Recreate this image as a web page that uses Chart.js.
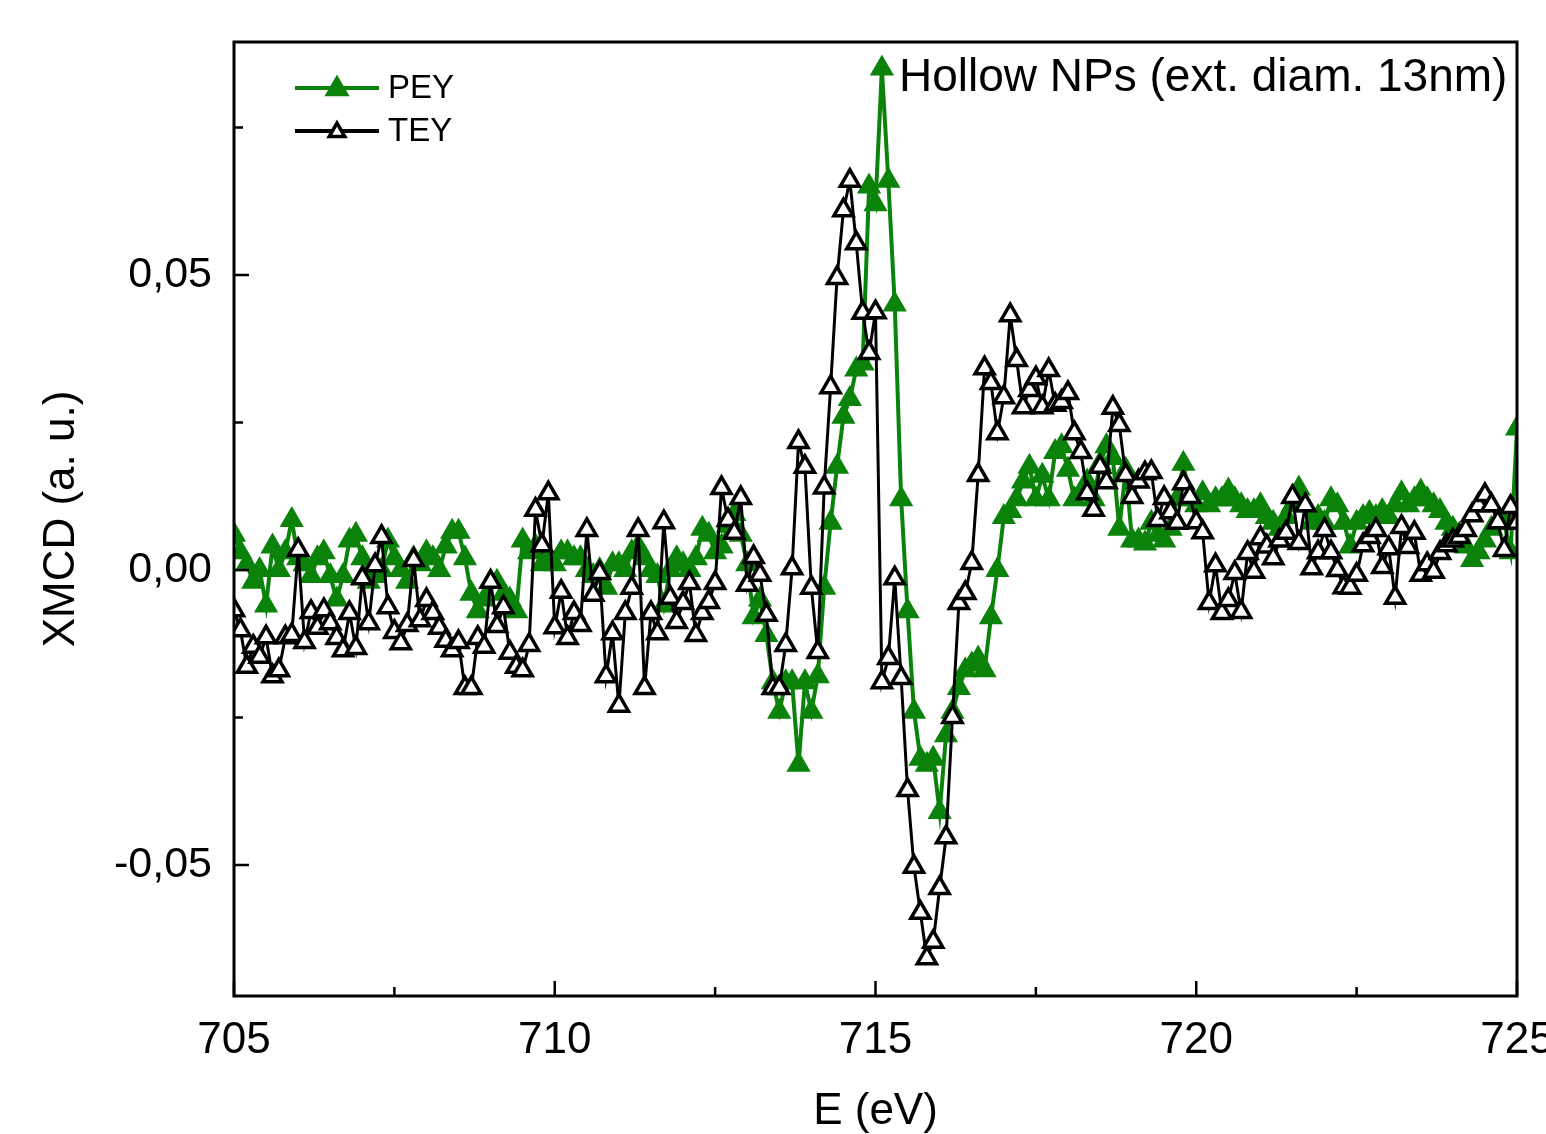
<!DOCTYPE html>
<html>
<head>
<meta charset="utf-8">
<script src="https://cdn.jsdelivr.net/npm/chart.js@4/dist/chart.umd.min.js"></script>
<style>
html,body{margin:0;padding:0;background:#fff;overflow:hidden;}
</style>
</head>
<body>
<canvas id="xmcd" width="1546" height="1134"></canvas>
<script>
// photon energy grid (eV)
const energy=[
705.0,705.1,705.2,705.3,705.4,705.5,705.6,705.7,705.8,705.9,
706.0,706.1,706.2,706.3,706.4,706.5,706.6,706.7,706.8,706.9,
707.0,707.1,707.2,707.3,707.4,707.5,707.6,707.7,707.8,707.9,
708.0,708.1,708.2,708.3,708.4,708.5,708.6,708.7,708.8,708.9,
709.0,709.1,709.2,709.3,709.4,709.5,709.6,709.7,709.8,709.9,
710.0,710.1,710.2,710.3,710.4,710.5,710.6,710.7,710.8,710.9,
711.0,711.1,711.2,711.3,711.4,711.5,711.6,711.7,711.8,711.9,
712.0,712.1,712.2,712.3,712.4,712.5,712.6,712.7,712.8,712.9,
713.0,713.1,713.2,713.3,713.4,713.5,713.6,713.7,713.8,713.9,
714.0,714.1,714.2,714.3,714.4,714.5,714.6,714.7,714.8,714.9,
715.0,715.1,715.2,715.3,715.4,715.5,715.6,715.7,715.8,715.9,
716.0,716.1,716.2,716.3,716.4,716.5,716.6,716.7,716.8,716.9,
717.0,717.1,717.2,717.3,717.4,717.5,717.6,717.7,717.8,717.9,
718.0,718.1,718.2,718.3,718.4,718.5,718.6,718.7,718.8,718.9,
719.0,719.1,719.2,719.3,719.4,719.5,719.6,719.7,719.8,719.9,
720.0,720.1,720.2,720.3,720.4,720.5,720.6,720.7,720.8,720.9,
721.0,721.1,721.2,721.3,721.4,721.5,721.6,721.7,721.8,721.9,
722.0,722.1,722.2,722.3,722.4,722.5,722.6,722.7,722.8,722.9,
723.0,723.1,723.2,723.3,723.4,723.5,723.6,723.7,723.8,723.9,
724.0,724.1,724.2,724.3,724.4,724.5,724.6,724.7,724.8,724.9,
725.0];

// PEY (partial electron yield) XMCD
const pey=[
0.006,0.003,0.001,-0.002,0.000,-0.006,0.004,0.000,0.003,0.0085,
0.002,0.001,-0.001,0.002,0.003,-0.001,-0.005,-0.001,0.005,0.006,
0.002,-0.002,-0.001,0.000,0.005,0.002,0.000,-0.002,0.002,0.001,
0.003,0.002,0.000,0.004,0.0065,0.0065,0.002,-0.004,-0.007,-0.005,
-0.002,-0.002,-0.004,-0.005,-0.007,0.005,0.003,0.004,0.001,0.002,
0.001,0.003,0.003,0.002,0.002,0.000,-0.001,0.000,-0.003,0.001,
0.001,0.000,0.003,0.004,0.002,0.000,-0.001,-0.006,0.000,0.002,
0.001,0.000,0.002,0.007,0.006,0.003,0.004,0.0075,0.0095,0.006,
0.001,-0.008,-0.005,-0.011,-0.019,-0.024,-0.019,-0.019,-0.033,-0.019,
-0.024,-0.018,-0.003,0.008,0.0175,0.026,0.029,0.034,0.035,0.065,
0.062,0.085,0.066,0.045,0.012,-0.007,-0.024,-0.032,-0.033,-0.032,
-0.041,-0.028,-0.024,-0.020,-0.017,-0.016,-0.015,-0.017,-0.008,0.000,
0.009,0.010,0.012,0.015,0.0175,0.012,0.016,0.012,0.020,0.021,
0.017,0.012,0.013,0.015,0.012,0.018,0.021,0.019,0.007,0.017,
0.005,0.005,0.0045,0.008,0.006,0.005,0.007,0.012,0.018,0.012,
0.011,0.013,0.011,0.012,0.012,0.0135,0.012,0.011,0.010,0.010,
0.011,0.009,0.008,0.007,0.009,0.011,0.0138,0.011,0.008,0.009,
0.008,0.012,0.011,0.008,0.004,0.008,0.009,0.0097,0.009,0.010,
0.009,0.011,0.013,0.011,0.012,0.0133,0.012,0.011,0.010,0.008,
0.007,0.006,0.004,0.0017,0.003,0.005,0.007,0.008,0.008,0.003,
0.024];

// TEY (total electron yield) XMCD
const tey=[
-0.0068,-0.0102,-0.0164,-0.013,-0.0147,-0.0114,-0.018,-0.017,-0.0114,-0.011,
0.0034,-0.0122,-0.0071,-0.0098,-0.0068,-0.009,-0.0115,-0.0136,-0.0073,-0.0132,
-0.0014,-0.009,0.0008,0.0056,-0.0063,-0.0105,-0.0124,-0.0093,0.0017,-0.0085,
-0.0051,-0.0073,-0.0098,-0.012,-0.0136,-0.0122,-0.020,-0.020,-0.0115,-0.013,
-0.002,-0.0095,-0.0063,-0.014,-0.0164,-0.017,-0.0127,0.0102,0.0042,0.013,
-0.0097,-0.0037,-0.0115,-0.0073,-0.0093,0.0068,-0.0042,-0.0005,-0.018,-0.0107,
-0.023,-0.0073,-0.003,0.0068,-0.020,-0.0073,-0.0107,0.0081,-0.0047,-0.0088,
-0.0056,-0.0022,-0.011,-0.0073,-0.0054,-0.0022,0.0139,0.0085,0.0063,0.0122,
-0.0025,0.0022,-0.0008,-0.0076,-0.020,-0.020,-0.0127,0.0003,0.0217,0.0175,
-0.003,-0.0139,0.014,0.031,0.0495,0.061,0.066,0.0554,0.0436,0.0368,
0.0437,-0.019,-0.0149,-0.0014,-0.0183,-0.0373,-0.0503,-0.0581,-0.0658,-0.063,
-0.0539,-0.0453,-0.0249,-0.0056,-0.0039,0.0012,0.0161,0.0342,0.0317,0.0232,
0.0293,0.0432,0.0356,0.0276,0.0305,0.0325,0.0276,0.0339,0.028,0.0285,
0.030,0.0232,0.020,0.013,0.0102,0.0175,0.0149,0.0275,0.0246,0.0161,
0.0124,0.015,0.0164,0.0166,0.0085,0.0122,0.0098,0.008,0.0147,0.0124,
0.0081,0.0064,-0.0056,0.0008,-0.0073,-0.0051,-0.0005,-0.0071,0.0029,-0.0003,
0.0054,0.004,0.002,0.005,0.0063,0.0124,0.0046,0.011,0.0003,0.003,
0.0068,0.003,0.000,-0.0029,-0.003,-0.0008,0.0042,0.0056,0.0068,0.0005,
0.0037,-0.0047,0.0073,0.0039,0.0063,-0.0008,0.001,-0.0003,0.0029,0.0042,
0.005,0.0056,0.0068,0.0093,0.011,0.0127,0.011,0.0081,0.0034,0.0107,
0.008];

const xMajor=[705,710,715,720,725];
const xMinor=[707.5,712.5,717.5,722.5];
const yMajor=[-0.05,0,0.05];
const yMinor=[-0.025,0.025,0.075];

const GREEN='#0b830b';
const FONT='"Liberation Sans", Arial, Helvetica, sans-serif';
const NOTE='Hollow NPs (ext. diam. 13nm)';

function pts(vals){ return energy.map((e,i)=>({x:e,y:vals[i]})); }

// frame, inward ticks, legend and note
const decor={
  id:'decor',
  afterDraw(chart){
    const {ctx,chartArea:a,scales:{x,y}}=chart;
    ctx.save();
    ctx.strokeStyle='#000';
    ctx.lineWidth=2.5;
    ctx.beginPath();
    xMajor.forEach(v=>{const px=x.getPixelForValue(v);ctx.moveTo(px,a.bottom);ctx.lineTo(px,a.bottom-15);});
    xMinor.forEach(v=>{const px=x.getPixelForValue(v);ctx.moveTo(px,a.bottom);ctx.lineTo(px,a.bottom-9);});
    yMajor.forEach(v=>{const py=y.getPixelForValue(v);ctx.moveTo(a.left,py);ctx.lineTo(a.left+15,py);});
    yMinor.forEach(v=>{const py=y.getPixelForValue(v);if(py<a.top)return;ctx.moveTo(a.left,py);ctx.lineTo(a.left+9,py);});
    ctx.stroke();
    ctx.lineWidth=3;
    ctx.strokeRect(a.left,a.top,a.right-a.left,a.bottom-a.top);

    // legend
    const ds=chart.data.datasets;
    const rows=[{d:ds[0],y:88,r:13},{d:ds[1],y:131,r:9}];
    rows.forEach(({d,y:ly,r})=>{
      ctx.strokeStyle=d.borderColor;
      ctx.lineWidth=4;
      ctx.beginPath();ctx.moveTo(295,ly);ctx.lineTo(379,ly);ctx.stroke();
      ctx.fillStyle=d.pointBackgroundColor;
      ctx.strokeStyle=d.pointBorderColor;
      ctx.lineWidth=d.pointBorderWidth;
      Chart.helpers.drawPoint(ctx,{pointStyle:'triangle',radius:r,borderWidth:d.pointBorderWidth},337,ly+1);
      ctx.fillStyle='#000';
      ctx.font='33px '+FONT;
      ctx.textBaseline='middle';
      ctx.textAlign='left';
      ctx.fillText(d.label,388,ly+1);
    });

    // sample note
    ctx.font='46px '+FONT;
    ctx.fillStyle='#000';
    ctx.textBaseline='middle';
    ctx.textAlign='left';
    ctx.fillText(NOTE,899,78);
    ctx.restore();
  }
};

new Chart(document.getElementById('xmcd'),{
  type:'line',
  data:{datasets:[
    {label:'PEY',data:pts(pey),borderColor:GREEN,backgroundColor:GREEN,
     pointBackgroundColor:GREEN,pointBorderColor:GREEN,pointBorderWidth:1.5,
     pointStyle:'triangle',pointRadius:12.5,borderWidth:4,order:1,clip:0},
    {label:'TEY',data:pts(tey),borderColor:'#000',backgroundColor:'#fff',
     pointBackgroundColor:'#fff',pointBorderColor:'#000',pointBorderWidth:3.5,
     pointStyle:'triangle',pointRadius:11,borderWidth:3,order:0,clip:0}
  ]},
  options:{
    responsive:false,animation:false,devicePixelRatio:1,
    layout:{padding:{left:0,right:29,top:42,bottom:0}},
    plugins:{legend:{display:false},tooltip:{enabled:false}},
    elements:{line:{tension:0}},
    scales:{
      x:{type:'linear',position:'bottom',min:705,max:725,
        grid:{display:false,drawTicks:false},border:{display:false},
        ticks:{color:'#000',padding:18,maxRotation:0,autoSkip:false,font:{family:FONT,size:44}},
        afterBuildTicks:s=>{s.ticks=xMajor.map(v=>({value:v}));},
        afterFit:s=>{s.height=138;s.paddingLeft=0;s.paddingRight=0;},
        title:{display:true,text:'E (eV)',color:'#000',font:{family:FONT,size:44,lineHeight:1},padding:{top:0,bottom:0}}
      },
      y:{type:'linear',position:'left',min:-0.0722,max:0.0895,
        grid:{display:false,drawTicks:false},border:{display:false},
        ticks:{color:'#000',padding:22,font:{family:FONT,size:43},
          callback:v=>v.toFixed(2).replace('.',',')},
        afterBuildTicks:s=>{s.ticks=yMajor.map(v=>({value:v}));},
        afterFit:s=>{s.width=234;s.paddingTop=0;s.paddingBottom=0;},
        title:{display:true,text:'XMCD (a. u.)',color:'#000',font:{family:FONT,size:44,lineHeight:1},padding:{top:40,bottom:0}}
      }
    }
  },
  plugins:[decor]
});
</script>
</body>
</html>
